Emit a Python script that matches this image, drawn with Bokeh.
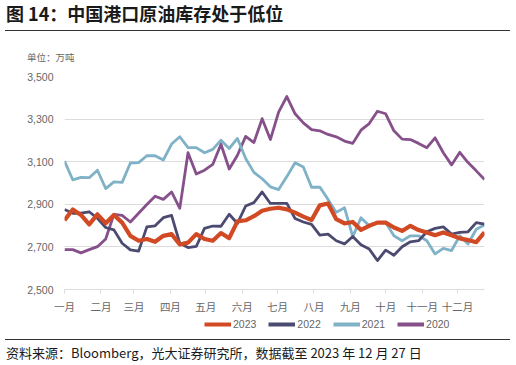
from bokeh.plotting import figure
from bokeh.models import (Legend, LegendItem, FixedTicker, NumeralTickFormatter,
                          Range1d, Div)
from bokeh.layouts import column
from bokeh.embed import file_html
from bokeh.resources import INLINE

# day of year of each weekly observation
days = [0, 7, 14, 21, 28, 35, 42, 49, 56, 63, 70, 77, 84, 91, 98, 105, 112, 119,
        126, 133, 140, 147, 154, 161, 168, 175, 182, 189, 196, 203, 210, 217, 224,
        231, 238, 245, 252, 259, 266, 273, 280, 287, 294, 301, 308, 315, 322, 329,
        336, 343, 350, 357]

month_ticks = [0, 31, 59, 90, 120, 151, 181, 212, 243, 273, 304, 334]
month_labels = ["一月", "二月", "三月", "四月", "五月", "六月", "七月", "八月",
                "九月", "十月", "十一月", "十二月"]
y_ticks = [2500, 2700, 2900, 3100, 3300, 3500]

s2023 = [2825, 2876, 2850, 2806, 2853, 2811, 2850, 2814, 2752, 2729, 2737, 2724,
         2752, 2760, 2711, 2720, 2760, 2737, 2729, 2765, 2741, 2820, 2825,
         2844, 2870, 2879, 2884, 2876, 2861, 2842, 2826, 2895, 2904, 2830, 2810,
         2817, 2780, 2799, 2814, 2814, 2791, 2775, 2799, 2779, 2768, 2755, 2768,
         2755, 2740, 2732, 2722, 2768]
s2022 = [2876, 2858, 2858, 2865, 2834, 2791, 2780, 2717, 2686, 2680, 2794, 2799,
         2837, 2848, 2717, 2697, 2702, 2787, 2798, 2797, 2853, 2810, 2892,
         2908, 2958, 2904, 2904, 2904, 2833, 2817, 2806, 2755, 2760, 2729, 2714,
         2749, 2710, 2690, 2636, 2685, 2661, 2701, 2724, 2729, 2771, 2787, 2794,
         2760, 2768, 2771, 2814, 2807]
s2021 = [3103, 3015, 3026, 3025, 3060, 2974, 3005, 3003, 3094, 3096, 3128, 3128,
         3108, 3183, 3217, 3166, 3166, 3142, 3158, 3201, 3162, 3209, 3115,
         3050, 3020, 2982, 2969, 3030, 3095, 3075, 2980, 2981, 2923, 2862, 2884,
         2748, 2837, 2799, 2814, 2814, 2752, 2729, 2752, 2752, 2729, 2667, 2693,
         2683, 2752, 2714, 2783, 2803]
s2020 = [2687, 2687, 2672, 2687, 2701, 2737, 2853, 2848, 2817, 2858, 2899, 2938,
         2923, 2958, 2881, 3142, 3042, 3060, 3087, 3182, 3066, 3130, 3219,
         3190, 3302, 3204, 3333, 3406, 3325, 3282, 3251, 3245, 3228, 3217, 3197,
         3186, 3248, 3279, 3337, 3325, 3245, 3206, 3204, 3186, 3166, 3212, 3142,
         3085, 3144, 3096, 3057, 3016]

series = [("2023", s2023, "#D24A24", 4.2),
          ("2022", s2022, "#4B4A70", 2.8),
          ("2021", s2021, "#7FB1C7", 2.8),
          ("2020", s2020, "#86508B", 2.8)]

CJK_CSS = "'Noto Sans CJK SC'"
CJK = "Noto Sans CJK SC"
LAT = "Liberation Sans"

top = Div(width=516, height=64, styles={"margin": "0", "padding": "0"}, text=(
    f'<div style="margin:0 0 0 6px;font-family:{CJK_CSS};font-weight:bold;font-size:18px;'
    'line-height:26px;height:26px;color:#1a1a1a;white-space:nowrap">图 14：中国港口原油库存处于低位</div>'
    '<div style="margin:4px 0 0 5px;width:505px;height:0;border-top:1.5px solid #333"></div>'
    f'<div style="margin:20px 0 0 27px;font-family:{CJK_CSS};font-size:9.5px;line-height:12px;'
    'color:#666;white-space:nowrap">单位：万吨</div>'))

# ---- main chart -------------------------------------------------------
p = figure(width=516, height=252, output_backend="svg", toolbar_location=None,
           x_range=Range1d(0, 357), y_range=Range1d(2500, 3500),
           min_border_left=64, min_border_right=32, min_border_top=12,
           min_border_bottom=25)
p.outline_line_color = None
p.background_fill_color = "white"
p.border_fill_color = "white"

for name, vals, color, w in reversed(series):
    p.line(days, vals, line_color=color, line_width=w, line_join="round")

p.xgrid.grid_line_color = None
p.ygrid.grid_line_color = "#DCDCDC"
p.ygrid.grid_line_width = 1

p.yaxis.ticker = FixedTicker(ticks=y_ticks)
p.yaxis.formatter = NumeralTickFormatter(format="0,0")
p.yaxis.axis_line_color = None
p.yaxis.major_tick_line_color = None
p.yaxis.major_tick_out = 0
p.yaxis.major_tick_in = 0
p.yaxis.minor_tick_line_color = None
p.yaxis.major_label_text_font = LAT
p.yaxis.major_label_text_font_size = "10.5px"
p.yaxis.major_label_text_color = "#666666"
p.yaxis.major_label_standoff = 11

p.xaxis.ticker = FixedTicker(ticks=month_ticks)
p.xaxis.major_label_overrides = {t: l for t, l in zip(month_ticks, month_labels)}
p.xaxis.axis_line_color = "#DCDCDC"
p.xaxis.major_tick_line_color = "#DCDCDC"
p.xaxis.major_tick_out = 4
p.xaxis.major_tick_in = 0
p.xaxis.minor_tick_line_color = None
p.xaxis.major_label_text_font = CJK
p.xaxis.major_label_text_font_size = "10.5px"
p.xaxis.major_label_text_color = "#666666"
p.xaxis.major_label_standoff = 5

# ---- legend strip (same series, renderers hidden, only the legend shows) ---
lg = figure(width=516, height=23, output_backend="svg", toolbar_location=None,
            x_range=Range1d(0, 357), y_range=Range1d(2500, 3500),
            x_axis_location=None, y_axis_location=None,
            min_border_left=0, min_border_right=0, min_border_top=0,
            min_border_bottom=0)
lg.outline_line_color = None
lg.xgrid.grid_line_color = None
lg.ygrid.grid_line_color = None
items = []
for name, vals, color, w in series:
    r = lg.line(days, vals, line_color=color, line_width=4, visible=False)
    items.append(LegendItem(label=name, renderers=[r]))
legend = Legend(items=items, orientation="horizontal", location=(140, 9),
                glyph_width=27, glyph_height=12, label_height=12,
                label_standoff=2, spacing=12, padding=0, margin=0,
                label_text_font=LAT, label_text_font_size="10.5px",
                label_text_color="#666666", border_line_color=None,
                background_fill_alpha=0, inactive_fill_alpha=0,
                click_policy="none")
lg.add_layout(legend, "center")

bottom = Div(width=516, height=26, styles={"margin": "0", "padding": "0"}, text=(
    '<div style="margin:0 0 0 5px;width:505px;height:0;border-top:1.5px solid #333"></div>'
    f'<div style="margin:4px 0 0 6px;font-family:{CJK_CSS};font-size:13px;line-height:17px;'
    'color:#1a1a1a;white-space:nowrap">资料来源：Bloomberg，光大证券研究所，数据截至 2023 年 12 月 27 日</div>'))

layout = column(top, p, lg, bottom, spacing=0)
open("out.html", "w").write(file_html(layout, INLINE))
